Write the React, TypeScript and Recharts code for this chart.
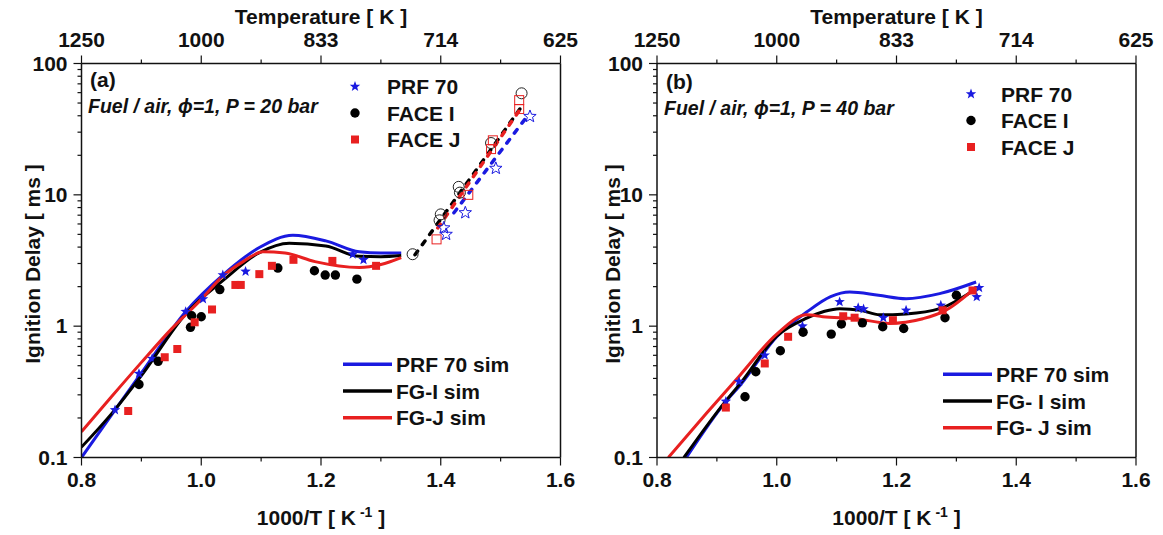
import { ComposedChart, Line, Scatter, XAxis, YAxis, ReferenceLine } from "recharts";

const BLUE = "#1a1ae0";
const RED = "#e82020";
const INK = "#111";
const FONT = '"Liberation Sans", Arial, sans-serif';

type Pt = { x: number; y: number };
const pts = (a: number[][]): Pt[] => a.map(([x, y]) => ({ x, y }));

// axis ticks
const xTicks = [0.8, 0.9, 1.0, 1.1, 1.2, 1.3, 1.4, 1.5, 1.6];
const xMajor = [0.8, 1.0, 1.2, 1.4, 1.6];
const xLabels = ["0.8", "1.0", "1.2", "1.4", "1.6"];
const tempLabels = ["1250", "1000", "833", "714", "625"];
const yTicks = [
  0.1, 0.2, 0.3, 0.4, 0.5, 0.6, 0.7, 0.8, 0.9,
  1, 2, 3, 4, 5, 6, 7, 8, 9,
  10, 20, 30, 40, 50, 60, 70, 80, 90, 100,
];
const yMajor = [0.1, 1, 10, 100];
const yLabels = ["0.1", "1", "10", "100"];

// (a) 20 bar - experiments
const prf70ExpA = pts([[0.856, 0.23], [0.896, 0.435], [0.918, 0.566], [0.974, 1.29], [1.003, 1.61], [1.036, 2.45], [1.074, 2.61], [1.253, 3.53], [1.271, 3.2]]);
const faceIExpA = pts([[0.896, 0.36], [0.928, 0.54], [0.982, 0.98], [0.984, 1.2], [1.0, 1.18], [1.031, 1.9], [1.128, 2.77], [1.189, 2.64], [1.207, 2.45], [1.224, 2.45], [1.26, 2.28]]);
const faceJExpA = pts([[0.878, 0.226], [0.939, 0.58], [0.96, 0.67], [0.989, 1.07], [1.018, 1.34], [1.057, 2.06], [1.066, 2.06], [1.097, 2.49], [1.118, 2.88], [1.154, 3.2], [1.219, 3.14], [1.292, 2.88]]);
// (a) low temperature points (open symbols)
const prf70OpenA = pts([[1.405, 5.6], [1.409, 5.0], [1.441, 7.3], [1.492, 15.9], [1.549, 39.5]]);
const faceIOpenA = pts([[1.353, 3.53], [1.398, 6.4], [1.4, 7.1], [1.43, 11.5], [1.432, 10.4], [1.484, 24.8], [1.535, 59.3]]);
const faceJOpenA = pts([[1.393, 4.58], [1.446, 10.0], [1.484, 22.3], [1.487, 26], [1.531, 52.6], [1.531, 45]]);
// (a) fits through low temperature points
const prf70FitA = pts([[1.422, 7.3], [1.545, 40]]);
const faceIFitA = pts([[1.357, 3.5], [1.45, 13.5], [1.535, 47]]);
const faceJFitA = pts([[1.395, 5.6], [1.534, 45.7]]);
// (a) simulations
const prf70SimA = pts([[0.8, 0.1], [0.85, 0.21], [0.9, 0.44], [0.974, 1.29], [1.036, 2.45], [1.097, 3.97], [1.153, 4.92], [1.208, 4.46], [1.264, 3.68], [1.3, 3.6], [1.334, 3.6]]);
const faceISimA = pts([[0.8, 0.12], [0.85, 0.215], [0.9, 0.42], [0.974, 1.24], [1.036, 2.22], [1.097, 3.63], [1.147, 4.28], [1.208, 4.08], [1.264, 3.4], [1.3, 3.38], [1.334, 3.45]]);
const faceJSimA = pts([[0.8, 0.157], [0.85, 0.29], [0.9, 0.53], [0.95, 0.95], [1.0, 1.6], [1.036, 2.4], [1.07, 3.1], [1.103, 3.68], [1.14, 3.6], [1.19, 3.1], [1.264, 2.8], [1.3, 2.95], [1.334, 3.33]]);

// (b) 40 bar - experiments
const prf70ExpB = pts([[0.915, 0.267], [0.937, 0.378], [0.98, 0.6], [1.043, 1.0], [1.105, 1.53], [1.136, 1.38], [1.145, 1.35], [1.178, 1.16], [1.216, 1.32], [1.274, 1.44], [1.334, 1.67], [1.338, 1.96]]);
const faceIExpB = pts([[0.947, 0.29], [0.965, 0.45], [1.006, 0.65], [1.044, 0.9], [1.091, 0.87], [1.108, 1.04], [1.143, 1.06], [1.177, 0.99], [1.212, 0.96], [1.281, 1.16], [1.3, 1.72]]);
const faceJExpB = pts([[0.915, 0.24], [0.98, 0.52], [1.019, 0.83], [1.111, 1.19], [1.13, 1.16], [1.194, 1.11], [1.277, 1.32], [1.327, 1.87]]);
// (b) simulations
const prf70SimB = pts([[0.849, 0.1], [0.915, 0.267], [0.94, 0.36], [1.0, 0.83], [1.05, 1.28], [1.09, 1.68], [1.122, 1.82], [1.17, 1.72], [1.216, 1.62], [1.272, 1.77], [1.333, 2.17]]);
const faceISimB = pts([[0.845, 0.1], [0.915, 0.27], [0.94, 0.37], [1.0, 0.84], [1.05, 1.15], [1.08, 1.3], [1.105, 1.36], [1.14, 1.32], [1.172, 1.22], [1.216, 1.24], [1.272, 1.36], [1.333, 1.93]]);
const faceJSimB = pts([[0.819, 0.1], [0.883, 0.218], [0.938, 0.42], [1.0, 0.87], [1.05, 1.22], [1.077, 1.18], [1.133, 1.14], [1.188, 1.05], [1.244, 1.14], [1.28, 1.3], [1.333, 1.98]]);

const expLegend = ["PRF 70", "FACE I", "FACE J"];
const simLegendA = ["PRF 70 sim", "FG-I sim", "FG-J sim"];
const simLegendB = ["PRF 70 sim", "FG- I sim", "FG- J sim"];

type Kind = "star" | "circle" | "square";

function starPath(cx: number, cy: number, R: number) {
  let d = "";
  for (let i = 0; i < 10; i++) {
    const r = i % 2 === 0 ? R : R * 0.42;
    const a = -Math.PI / 2 + (i * Math.PI) / 5;
    d += (i === 0 ? "M" : "L") + (cx + r * Math.cos(a)).toFixed(2) + "," + (cy + r * Math.sin(a)).toFixed(2);
  }
  return d + "Z";
}

function Marker({ cx, cy, kind, color, open }: { cx: number; cy: number; kind: Kind; color: string; open?: boolean }) {
  const fill = open ? "none" : color;
  const stroke = open ? color : "none";
  if (kind === "star") return <path d={starPath(cx, cy, open ? 6.5 : 5.5)} fill={fill} stroke={stroke} strokeWidth={1} />;
  if (kind === "circle") return <circle cx={cx} cy={cy} r={open ? 5.5 : 4.7} fill={fill} stroke={stroke} strokeWidth={1} />;
  const s = open ? 9 : 8;
  return <rect x={cx - s / 2} y={cy - s / 2} width={s} height={s} fill={fill} stroke={stroke} strokeWidth={1} />;
}

const tickText = { fontFamily: FONT, fontWeight: 700, fontSize: 21, fill: INK };

function BottomTick(p: any) {
  const i = xMajor.indexOf(p.payload.value);
  return (
    <g>
      <line x1={p.x} x2={p.x} y1={p.y} y2={p.y + (i >= 0 ? 8 : 4)} stroke={INK} strokeWidth={1.2} />
      {i >= 0 && (
        <text x={p.x} y={p.y + 29} textAnchor="middle" style={tickText}>{xLabels[i]}</text>
      )}
    </g>
  );
}

function TopTick(p: any) {
  const i = xMajor.indexOf(p.payload.value);
  return (
    <g>
      <line x1={p.x} x2={p.x} y1={p.y} y2={p.y - (i >= 0 ? 8 : 4)} stroke={INK} strokeWidth={1.2} />
      {i >= 0 && (
        <text x={p.x} y={p.y - 17} textAnchor="middle" style={tickText}>{tempLabels[i]}</text>
      )}
    </g>
  );
}

function LeftTick(p: any) {
  const i = yMajor.indexOf(p.payload.value);
  return (
    <g>
      <line x1={p.x} x2={p.x - (i >= 0 ? 8 : 4)} y1={p.y} y2={p.y} stroke={INK} strokeWidth={1.2} />
      {i >= 0 && (
        <text x={p.x - 14} y={p.y + 7} textAnchor="end" style={tickText}>{yLabels[i]}</text>
      )}
    </g>
  );
}

type LineSet = { data: Pt[]; color: string; dashed?: boolean };
type PointSet = { data: Pt[]; kind: Kind; color: string; open?: boolean };

function Panel({ left, width, axisW, rightM, lines, points }: { left: number; width: number; axisW: number; rightM: number; lines: LineSet[]; points: PointSet[] }) {
  const axisLine = { stroke: INK, strokeWidth: 1.5 };
  return (
    <div style={{ position: "absolute", left, top: 0 }}>
      <ComposedChart width={width} height={535} margin={{ top: 33.5, right: rightM, bottom: 47.5, left: 0 }}>
        <XAxis xAxisId="b" dataKey="x" type="number" domain={[0.8, 1.6]} ticks={xTicks} interval={0} allowDataOverflow height={30} tickSize={0} tickMargin={0} tickLine={false} axisLine={axisLine} tick={(p: any) => <BottomTick {...p} />} />
        <XAxis xAxisId="t" orientation="top" dataKey="x" type="number" domain={[0.8, 1.6]} ticks={xTicks} interval={0} allowDataOverflow height={30} tickSize={0} tickMargin={0} tickLine={false} axisLine={axisLine} tick={(p: any) => <TopTick {...p} />} />
        <YAxis yAxisId="l" dataKey="y" type="number" scale="log" domain={[0.1, 100]} ticks={yTicks} interval={0} allowDataOverflow width={axisW} tickSize={0} tickMargin={0} tickLine={false} axisLine={axisLine} tick={(p: any) => <LeftTick {...p} />} />
        <ReferenceLine xAxisId="b" yAxisId="l" x={1.6} stroke={INK} strokeWidth={1.5} />
        {lines.map((s, i) => (
          <Line
            key={"l" + i}
            xAxisId="b"
            yAxisId="l"
            data={s.data}
            dataKey="y"
            type="monotone"
            stroke={s.color}
            strokeWidth={s.dashed ? 3.5 : 3}
            strokeDasharray={s.dashed ? "4.5 8" : undefined}
            strokeLinecap={s.dashed ? "round" : "butt"}
            dot={false}
            activeDot={false}
            isAnimationActive={false}
          />
        ))}
        {points.map((s, i) => (
          <Scatter
            key={"s" + i}
            xAxisId="b"
            yAxisId="l"
            data={s.data}
            isAnimationActive={false}
            shape={(p: any) => <Marker cx={p.cx} cy={p.cy} kind={s.kind} color={s.color} open={s.open} />}
          />
        ))}
      </ComposedChart>
    </div>
  );
}

const bold = { fontFamily: FONT, fontWeight: 700, fontSize: 21, fill: INK };
const kinds: Kind[] = ["star", "circle", "square"];
const colors = [BLUE, "#000", RED];

function Overlay() {
  const yLabel = (x: number) => (
    <text x={x} y={264} transform={`rotate(-90 ${x} 264)`} textAnchor="middle" dominantBaseline="central" style={bold}>
      Ignition Delay [ ms ]
    </text>
  );
  const xTitle = (cx: number) => (
    <text x={cx} y={525} textAnchor="middle" style={bold}>
      1000/T [ K<tspan dy={-8} fontSize={14}> -1</tspan><tspan dy={8}> ]</tspan>
    </text>
  );
  const expLeg = (mx: number, tx: number, y0: number) =>
    expLegend.map((t, i) => (
      <g key={t}>
        <Marker cx={mx} cy={y0 + i * 26.5} kind={kinds[i]} color={colors[i]} />
        <text x={tx} y={y0 + i * 26.5 + 7.5} style={bold}>{t}</text>
      </g>
    ));
  const simLeg = (x1: number, y0: number, labels: string[]) =>
    labels.map((t, i) => (
      <g key={t}>
        <line x1={x1} x2={x1 + 49} y1={y0 + i * 26.7} y2={y0 + i * 26.7} stroke={colors[i]} strokeWidth={3.5} />
        <text x={x1 + 53} y={y0 + i * 26.7 + 7.5} style={bold}>{t}</text>
      </g>
    ));
  const note = { ...bold, fontSize: 19.5, fontStyle: "italic" as const };
  return (
    <svg width={1163} height={535} style={{ position: "absolute", left: 0, top: 0, pointerEvents: "none" }}>
      <text x={321} y={24} textAnchor="middle" style={bold}>Temperature [ K ]</text>
      <text x={896.5} y={24} textAnchor="middle" style={bold}>Temperature [ K ]</text>
      {yLabel(32)}
      {yLabel(612)}
      {xTitle(321)}
      {xTitle(896.5)}
      <text x={90} y={87} style={bold}>(a)</text>
      <text x={666} y={89} style={bold}>(b)</text>
      <text x={88} y={113} style={note}>Fuel / air, ϕ=1, P = 20 bar</text>
      <text x={664} y={115} style={note}>Fuel / air, ϕ=1, P = 40 bar</text>
      {expLeg(355, 387, 86.5)}
      {expLeg(971, 1001, 94)}
      {simLeg(343, 364.3, simLegendA)}
      {simLeg(943, 374.3, simLegendB)}
    </svg>
  );
}

export default function App() {
  const linesA: LineSet[] = [
    { data: prf70SimA, color: BLUE },
    { data: faceISimA, color: "#000" },
    { data: faceJSimA, color: RED },
    { data: prf70FitA, color: BLUE, dashed: true },
    { data: faceIFitA, color: "#000", dashed: true },
    { data: faceJFitA, color: RED, dashed: true },
  ];
  const pointsA: PointSet[] = [
    { data: prf70ExpA, kind: "star", color: BLUE },
    { data: faceIExpA, kind: "circle", color: "#000" },
    { data: faceJExpA, kind: "square", color: RED },
    { data: faceIOpenA, kind: "circle", color: "#222", open: true },
    { data: faceJOpenA, kind: "square", color: RED, open: true },
    { data: prf70OpenA, kind: "star", color: BLUE, open: true },
  ];
  const linesB: LineSet[] = [
    { data: prf70SimB, color: BLUE },
    { data: faceISimB, color: "#000" },
    { data: faceJSimB, color: RED },
  ];
  const pointsB: PointSet[] = [
    { data: prf70ExpB, kind: "star", color: BLUE },
    { data: faceIExpB, kind: "circle", color: "#000" },
    { data: faceJExpB, kind: "square", color: RED },
  ];
  return (
    <div style={{ position: "absolute", left: 0, top: 0, width: 1163, height: 535, background: "#fff" }}>
      <Panel left={0} width={580} axisW={81.5} rightM={19.5} lines={linesA} points={pointsA} />
      <Panel left={580} width={583} axisW={77} rightM={27} lines={linesB} points={pointsB} />
      <Overlay />
    </div>
  );
}
